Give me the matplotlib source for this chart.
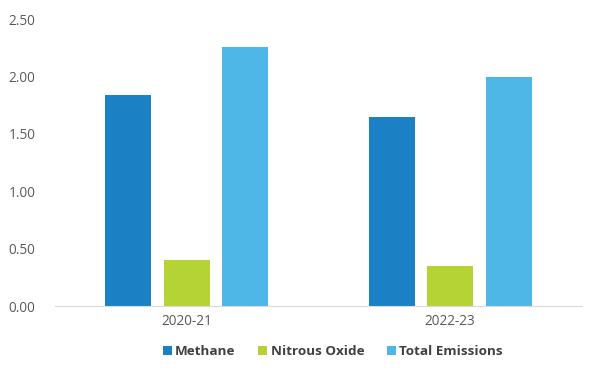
import matplotlib.pyplot as plt
import numpy as np

# data
years = ['2020-21', '2022-23']
methane = [1.84, 1.65]
nitrous = [0.40, 0.35]
total = [2.26, 2.00]
labels = ['Methane', 'Nitrous Oxide', 'Total Emissions']
colors = ['#1b80c4', '#b5d334', '#4fb6e8']

plt.rcParams['font.family'] = ['Open Sans', 'DejaVu Sans']

fig = plt.figure(figsize=(6, 3.76), dpi=100)
ax = fig.add_axes([0.0917, 0.186, 0.878, 0.763])

x = np.arange(len(years))
w = 0.174
pitch = 0.222
for i, (vals, lab) in enumerate(zip([methane, nitrous, total], labels)):
    ax.bar(x + (i - 1) * pitch, vals, width=w, color=colors[i], label=lab)

ax.set_xlim(-0.5, 1.5)
ax.set_ylim(0, 2.5)
ax.set_yticks([0, 0.5, 1.0, 1.5, 2.0, 2.5])
ax.set_yticklabels(['%.2f' % v for v in ax.get_yticks()])
ax.set_xticks(x)
ax.set_xticklabels(years)
ax.tick_params(axis='both', length=0, labelsize=9.8, colors='#595959')
ax.tick_params(axis='y', pad=14)
ax.tick_params(axis='x', pad=6)
for s in ['top', 'right', 'left']:
    ax.spines[s].set_visible(False)
ax.spines['bottom'].set_color('#d9d9d9')

leg = ax.legend(loc='center', bbox_to_anchor=(0.5275, -0.16), ncol=3, frameon=False,
                handlelength=0.65, handleheight=0.65, handletextpad=0.25, columnspacing=1.7,
                prop={'weight': 'bold', 'size': 9.7})
for t in leg.get_texts():
    t.set_color('#404040')

fig.savefig('out.png', dpi=100)
